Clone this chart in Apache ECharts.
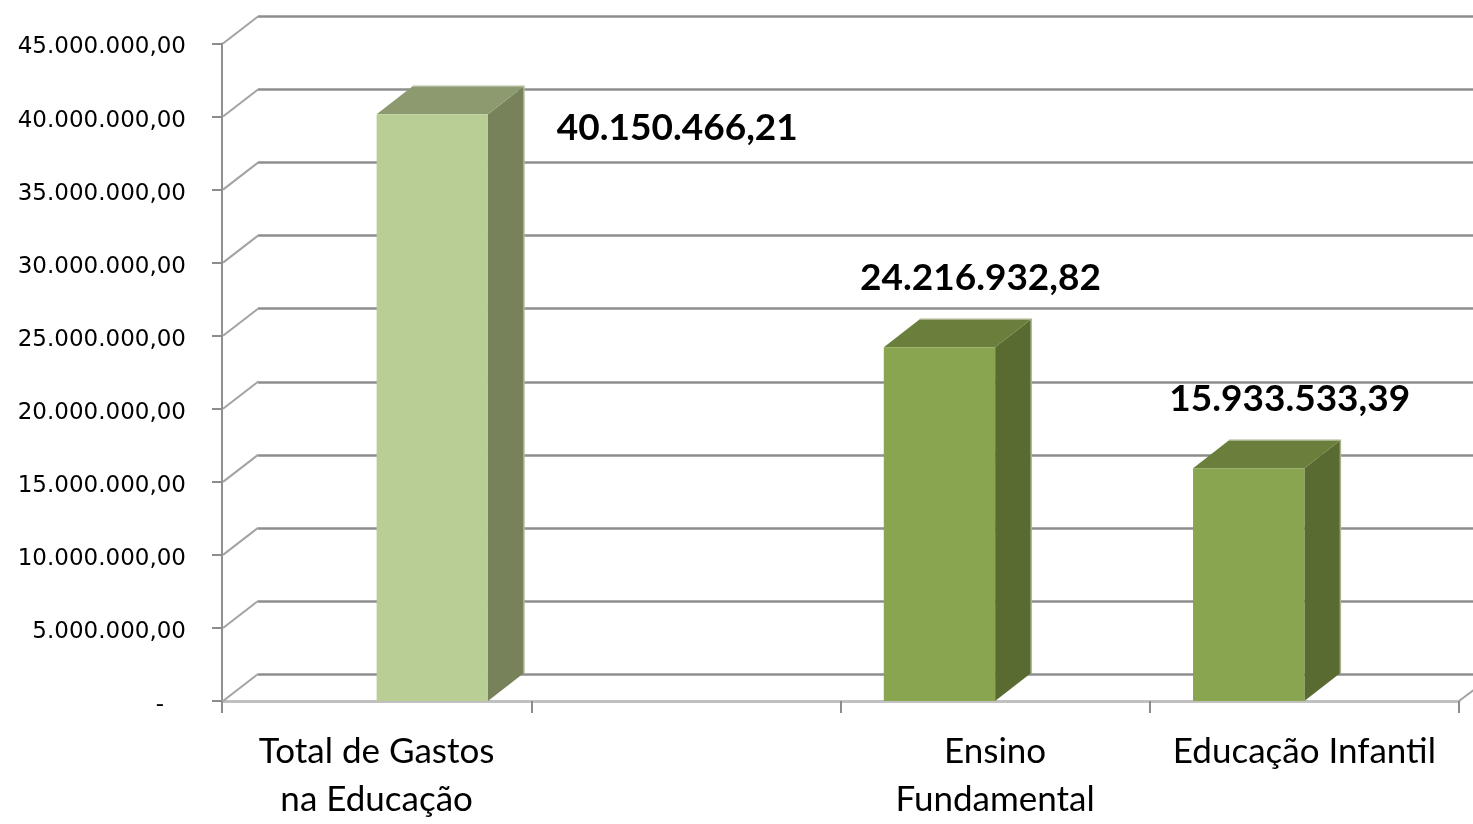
<!DOCTYPE html>
<html>
<head>
<meta charset="utf-8">
<title>Gastos na Educação</title>
<script src="https://cdn.jsdelivr.net/npm/echarts@6/dist/echarts.min.js"></script>
<style>
  html, body { margin: 0; padding: 0; background: #ffffff; }
  #chart { width: 1473px; height: 824px; }
</style>
</head>
<body>
<div id="chart"></div>
<script>
// Categories along the floor (the second slot is left empty)
const categories = ['Total de Gastos\nna Educação', '', 'Ensino\nFundamental', 'Educação Infantil'];
// Values per series (R$)
const totalGastos = [40150466.21, null, null, null];
const etapasEnsino = [null, null, 24216932.82, 15933533.39];
// Value axis range
const yMin = 0;
const yMax = 45000000;
const yStep = 5000000;

// 3D look: offset of the back wall and of the bar depth
const DEPTH_X = 36;
const DEPTH_Y = -27;
const BAR_RATIO = 0.36;

function brl(v) {
  const parts = v.toFixed(2).split('.');
  return parts[0].replace(/\B(?=(\d{3})+(?!\d))/g, '.') + ',' + parts[1];
}

function toPoints(values) {
  return values.map((v, i) => [i, v]).filter(d => d[1] != null);
}

function barRenderer(side, pal, labelOffset) {
  return function (params, api) {
    const cat = api.value(0);
    const val = api.value(1);
    const base = api.coord([cat, 0]);
    const top = api.coord([cat, val]);
    const w = api.size([1, 0])[0] * BAR_RATIO;
    const x0 = side > 0 ? base[0] : base[0] - w;
    const x1 = x0 + w;
    const yb = base[1];
    const yt = top[1];
    const dx = DEPTH_X, dy = DEPTH_Y - 1;
    return {
      type: 'group',
      children: [
        { type: 'polygon', shape: { points: [[x1, yt], [x1 + dx, yt + dy], [x1 + dx, yb + dy], [x1, yb]] },
          style: { fill: pal.side } },
        { type: 'polygon', shape: { points: [[x0, yt], [x0 + dx, yt + dy], [x1 + dx, yt + dy], [x1, yt]] },
          style: { fill: pal.top } },
        { type: 'rect', shape: { x: x0, y: yt, width: w, height: yb - yt },
          style: { fill: pal.front } },
        { type: 'polyline', shape: { points: [[x0 + dx, yt + dy], [x1 + dx, yt + dy], [x1 + dx, yb + dy]] },
          style: { fill: null, stroke: pal.edge, lineWidth: 1.5 } },
        { type: 'text',
          style: {
            text: brl(val),
            x: (x0 + x1) / 2 + labelOffset[0],
            y: yt + labelOffset[1],
            align: 'center', verticalAlign: 'middle',
            textAlign: 'center', textVerticalAlign: 'middle',
            fontFamily: 'Lato', fontWeight: 'bold', fontSize: 37,
            fill: '#000000'
          } }
      ]
    };
  };
}

// Connectors from the front value axis to the back wall
function connectorRenderer(params, api) {
  const cs = params.coordSys;
  const y = api.coord([0, api.value(1)])[1];
  const children = [
    { type: 'line', shape: { x1: cs.x + 1, y1: y, x2: cs.x + DEPTH_X, y2: y + DEPTH_Y },
      style: { stroke: '#a3a3a3', lineWidth: 2 } }
  ];
  if (api.value(1) === yMin) {
    const xr = cs.x + cs.width;
    children.push({ type: 'line', shape: { x1: xr, y1: y, x2: xr + DEPTH_X, y2: y + DEPTH_Y },
      style: { stroke: '#a3a3a3', lineWidth: 2 } });
  }
  return { type: 'group', children };
}

const tickValues = [];
for (let v = yMin; v <= yMax; v += yStep) tickValues.push([0, v]);

const chart = echarts.init(document.getElementById('chart'), null, { renderer: 'canvas' });

chart.setOption({
  animation: false,
  backgroundColor: '#ffffff',
  grid: [
    { left: 222, top: 43.5, width: 1237, height: 657.5 },
    { left: 222 + DEPTH_X, top: 43.5 + DEPTH_Y, width: 1300, height: 657.5 }
  ],
  xAxis: [
    {
      type: 'category', gridIndex: 0, data: categories,
      axisLine: { lineStyle: { color: '#c0c0c0', width: 3 } },
      axisTick: { show: true, length: 12, lineStyle: { color: '#8c8c8c', width: 2 } },
      axisLabel: {
        interval: 0, margin: 27, color: '#000000',
        fontFamily: 'Lato', fontSize: 35, lineHeight: 48
      },
      splitLine: { show: false }
    },
    {
      type: 'value', gridIndex: 1, show: false
    }
  ],
  yAxis: [
    {
      type: 'value', gridIndex: 0, min: yMin, max: yMax, interval: yStep,
      axisLine: { show: true, lineStyle: { color: '#909090', width: 2 } },
      axisTick: { show: true, length: 10, lineStyle: { color: '#8c8c8c', width: 2 } },
      axisLabel: {
        margin: 36, color: '#000000', fontFamily: 'DejaVu Sans', fontSize: 23,
        verticalAlign: 'top', lineHeight: 8,
        formatter: v => (v === 0 ? '-   ' : brl(v))
      },
      splitLine: { show: false }
    },
    {
      type: 'value', gridIndex: 1, min: yMin, max: yMax, interval: yStep,
      axisLine: { show: false }, axisTick: { show: false }, axisLabel: { show: false },
      splitLine: { show: true, lineStyle: { color: '#8e8e8e', width: 2.5 } }
    }
  ],
  series: [
    {
      type: 'custom', name: 'connectors', xAxisIndex: 0, yAxisIndex: 0,
      data: tickValues, renderItem: connectorRenderer, z: 1, silent: true
    },
    {
      type: 'custom', name: 'Total de Gastos na Educação', xAxisIndex: 0, yAxisIndex: 0,
      data: toPoints(totalGastos), z: 3,
      renderItem: barRenderer(1, { front: '#b9ce95', top: '#8d9a70', side: '#78825a', edge: '#b2b99c' }, [245, 14])
    },
    {
      type: 'custom', name: 'Etapas de ensino', xAxisIndex: 0, yAxisIndex: 0,
      data: toPoints(etapasEnsino), z: 3,
      renderItem: barRenderer(-1, { front: '#89a54f', top: '#6a7f3c', side: '#5a6b32', edge: '#a8b38a' }, [41, -69])
    }
  ]
});
</script>
</body>
</html>
